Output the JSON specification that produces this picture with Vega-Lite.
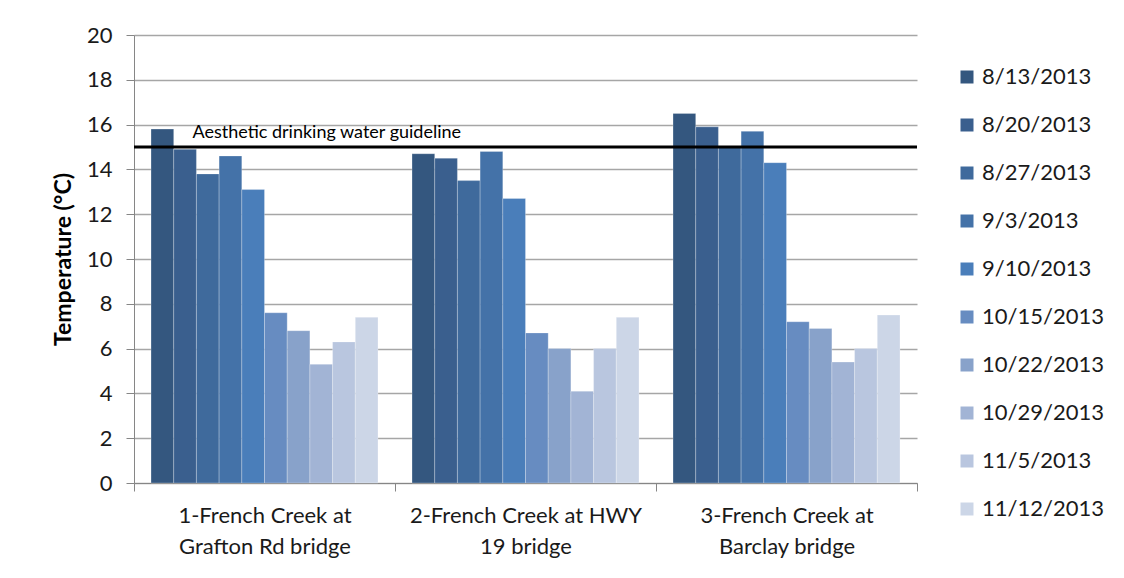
{
  "$schema": "https://vega.github.io/schema/vega-lite/v6.json",
  "width": 783,
  "height": 448,
  "autosize": {"type": "none"},
  "padding": {"left": 134, "top": 35, "right": 207, "bottom": 95},
  "background": "white",
  "config": {"font": "Lato", "view": {"stroke": null}},
  "data": {
    "values": [
      {"site": "1-French Creek at Grafton Rd bridge", "date": "8/13/2013", "temp": 15.8},
      {"site": "1-French Creek at Grafton Rd bridge", "date": "8/20/2013", "temp": 14.9},
      {"site": "1-French Creek at Grafton Rd bridge", "date": "8/27/2013", "temp": 13.8},
      {"site": "1-French Creek at Grafton Rd bridge", "date": "9/3/2013", "temp": 14.6},
      {"site": "1-French Creek at Grafton Rd bridge", "date": "9/10/2013", "temp": 13.1},
      {"site": "1-French Creek at Grafton Rd bridge", "date": "10/15/2013", "temp": 7.6},
      {"site": "1-French Creek at Grafton Rd bridge", "date": "10/22/2013", "temp": 6.8},
      {"site": "1-French Creek at Grafton Rd bridge", "date": "10/29/2013", "temp": 5.3},
      {"site": "1-French Creek at Grafton Rd bridge", "date": "11/5/2013", "temp": 6.3},
      {"site": "1-French Creek at Grafton Rd bridge", "date": "11/12/2013", "temp": 7.4},
      {"site": "2-French Creek at HWY 19 bridge", "date": "8/13/2013", "temp": 14.7},
      {"site": "2-French Creek at HWY 19 bridge", "date": "8/20/2013", "temp": 14.5},
      {"site": "2-French Creek at HWY 19 bridge", "date": "8/27/2013", "temp": 13.5},
      {"site": "2-French Creek at HWY 19 bridge", "date": "9/3/2013", "temp": 14.8},
      {"site": "2-French Creek at HWY 19 bridge", "date": "9/10/2013", "temp": 12.7},
      {"site": "2-French Creek at HWY 19 bridge", "date": "10/15/2013", "temp": 6.7},
      {"site": "2-French Creek at HWY 19 bridge", "date": "10/22/2013", "temp": 6.0},
      {"site": "2-French Creek at HWY 19 bridge", "date": "10/29/2013", "temp": 4.1},
      {"site": "2-French Creek at HWY 19 bridge", "date": "11/5/2013", "temp": 6.0},
      {"site": "2-French Creek at HWY 19 bridge", "date": "11/12/2013", "temp": 7.4},
      {"site": "3-French Creek at Barclay bridge", "date": "8/13/2013", "temp": 16.5},
      {"site": "3-French Creek at Barclay bridge", "date": "8/20/2013", "temp": 15.9},
      {"site": "3-French Creek at Barclay bridge", "date": "8/27/2013", "temp": 15.0},
      {"site": "3-French Creek at Barclay bridge", "date": "9/3/2013", "temp": 15.7},
      {"site": "3-French Creek at Barclay bridge", "date": "9/10/2013", "temp": 14.3},
      {"site": "3-French Creek at Barclay bridge", "date": "10/15/2013", "temp": 7.2},
      {"site": "3-French Creek at Barclay bridge", "date": "10/22/2013", "temp": 6.9},
      {"site": "3-French Creek at Barclay bridge", "date": "10/29/2013", "temp": 5.4},
      {"site": "3-French Creek at Barclay bridge", "date": "11/5/2013", "temp": 6.0},
      {"site": "3-French Creek at Barclay bridge", "date": "11/12/2013", "temp": 7.5}
    ]
  },
  "layer": [
    {
      "mark": {"type": "bar", "stroke": "#ffffff", "strokeOpacity": 0.25, "strokeWidth": 1},
      "encoding": {
        "x": {
          "field": "site",
          "type": "nominal",
          "sort": ["1-French Creek at Grafton Rd bridge", "2-French Creek at HWY 19 bridge", "3-French Creek at Barclay bridge"],
          "scale": {"paddingInner": 0, "paddingOuter": 0},
          "axis": {
            "title": null,
            "labelAngle": 0,
            "labelFontSize": 22,
            "labelColor": "#1a1a1a",
            "labelLimit": 0,
            "labelPadding": 14,
            "labelLineHeight": 31,
            "labelExpr": "datum.label == '1-French Creek at Grafton Rd bridge' ? ['1-French Creek at', 'Grafton Rd bridge'] : datum.label == '2-French Creek at HWY 19 bridge' ? ['2-French Creek at HWY', '19 bridge'] : datum.label == '3-French Creek at Barclay bridge' ? ['3-French Creek at', 'Barclay bridge'] : ''",
            "tickBand": "extent",
            "tickSize": 8,
            "tickColor": "#868686",
            "domainColor": "#868686",
            "grid": false
          }
        },
        "xOffset": {
          "field": "date",
          "type": "nominal",
          "sort": ["8/13/2013", "8/20/2013", "8/27/2013", "9/3/2013", "9/10/2013", "10/15/2013", "10/22/2013", "10/29/2013", "11/5/2013", "11/12/2013"],
          "scale": {"paddingInner": 0, "paddingOuter": 0.75}
        },
        "y": {
          "field": "temp",
          "type": "quantitative",
          "scale": {"domain": [0, 20]},
          "axis": {
            "values": [0, 2, 4, 6, 8, 10, 12, 14, 16, 18, 20],
            "title": "Temperature (°C)",
            "titleFontSize": 23,
            "titleFontWeight": "bold",
            "titleColor": "#000000",
            "titlePadding": 11,
            "labelFontSize": 22,
            "labelColor": "#1a1a1a",
            "labelPadding": 14,
            "tickSize": 8,
            "tickColor": "#868686",
            "domainColor": "#868686",
            "gridColor": "#A6A6A6",
            "gridWidth": 1.3
          }
        },
        "color": {
          "field": "date",
          "type": "nominal",
          "scale": {
            "domain": ["8/13/2013", "8/20/2013", "8/27/2013", "9/3/2013", "9/10/2013", "10/15/2013", "10/22/2013", "10/29/2013", "11/5/2013", "11/12/2013"],
            "range": ["#34577F", "#3A5F8E", "#3F6A9C", "#4472A8", "#4A7EBA", "#678CC1", "#88A2CA", "#A2B4D5", "#B9C6DF", "#CCD6E7"]
          },
          "legend": {
            "orient": "none",
            "legendX": 822,
            "legendY": 31,
            "title": null,
            "padding": 0,
            "symbolType": "square",
            "symbolSize": 169,
            "symbolStrokeWidth": 0,
            "labelFontSize": 22,
            "labelColor": "#1a1a1a",
            "labelOffset": 4,
            "rowPadding": 26
          }
        }
      }
    },
    {
      "data": {"values": [{"guideline": 15, "label": "Aesthetic drinking water guideline", "site": "1-French Creek at Grafton Rd bridge"}]},
      "mark": {"type": "rule", "color": "#000000", "strokeWidth": 3},
      "encoding": {"y": {"field": "guideline", "type": "quantitative"}}
    },
    {
      "data": {"values": [{"guideline": 15, "label": "Aesthetic drinking water guideline", "site": "1-French Creek at Grafton Rd bridge"}]},
      "mark": {"type": "text", "align": "left", "baseline": "bottom", "dx": -72, "dy": -5, "fontSize": 18, "color": "#000000"},
      "encoding": {
        "x": {"field": "site", "type": "nominal"},
        "y": {"field": "guideline", "type": "quantitative"},
        "text": {"field": "label"}
      }
    }
  ]
}
